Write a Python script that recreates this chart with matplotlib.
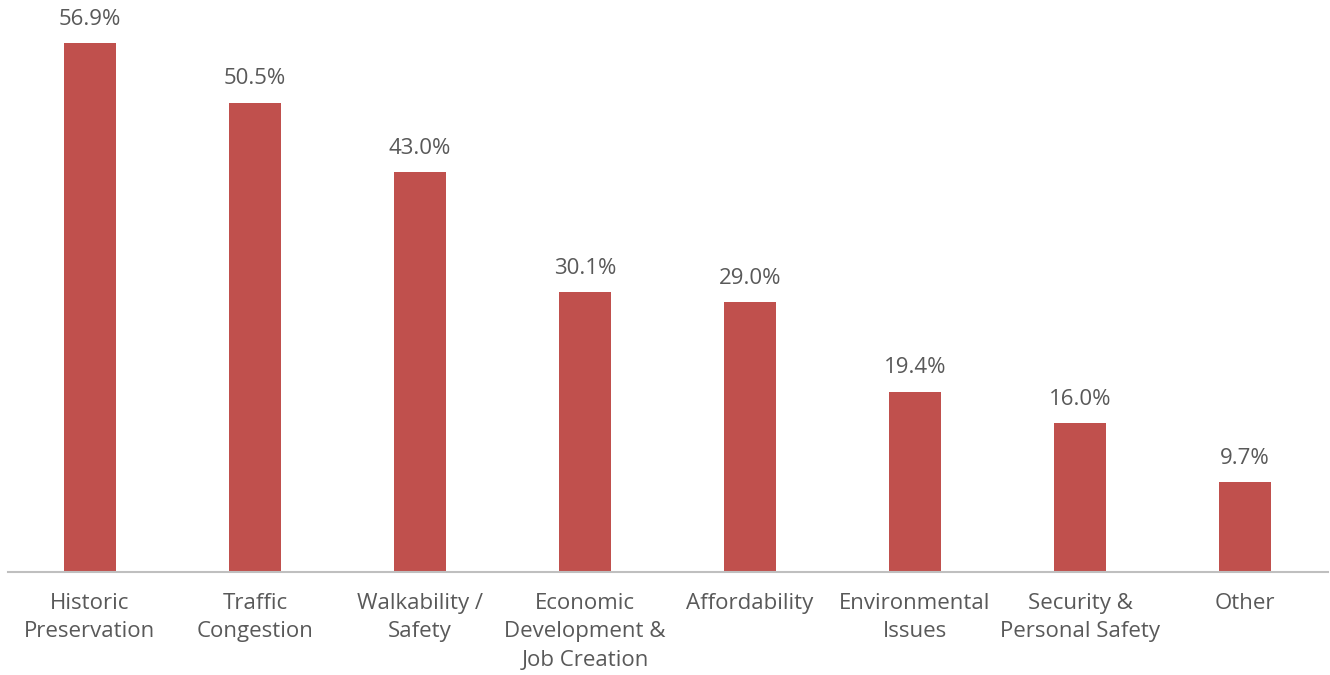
import matplotlib
matplotlib.use("Agg")
import matplotlib.pyplot as plt

categories = ["Historic\nPreservation", "Traffic\nCongestion", "Walkability /\nSafety",
              "Economic\nDevelopment &\nJob Creation", "Affordability", "Environmental\nIssues",
              "Security &\nPersonal Safety", "Other"]
values = [56.9, 50.5, 43.0, 30.1, 29.0, 19.4, 16.0, 9.7]

plt.rcParams['font.family'] = ['Open Sans', 'DejaVu Sans']
text_color = "#595959"

fig = plt.figure(figsize=(13.3, 6.75), dpi=100)
ax = fig.add_axes([7.5/1330, 103/675, 1320/1330, 572/675])
x = range(len(categories))
bars = ax.bar(x, values, width=0.315, color="#C0504D")
ax.set_xlim(-0.5, len(categories) - 0.5)
ax.set_ylim(0, 61.53)
for b, v in zip(bars, values):
    ax.annotate(f"{v:.1f}%", (b.get_x() + b.get_width()/2, v), xytext=(0, 9.5),
                textcoords="offset points", ha="center", va="bottom",
                fontsize=16, color=text_color)
ax.set_xticks(list(x))
ax.set_xticklabels(categories, fontsize=16, color=text_color, linespacing=1.47)
ax.tick_params(axis="x", length=0, pad=15)
ax.set_yticks([])
for s in ["top", "right", "left"]:
    ax.spines[s].set_visible(False)
ax.spines["bottom"].set_color("#BFBFBF")
ax.spines["bottom"].set_linewidth(1.5)
fig.savefig("out.png", dpi=100)
